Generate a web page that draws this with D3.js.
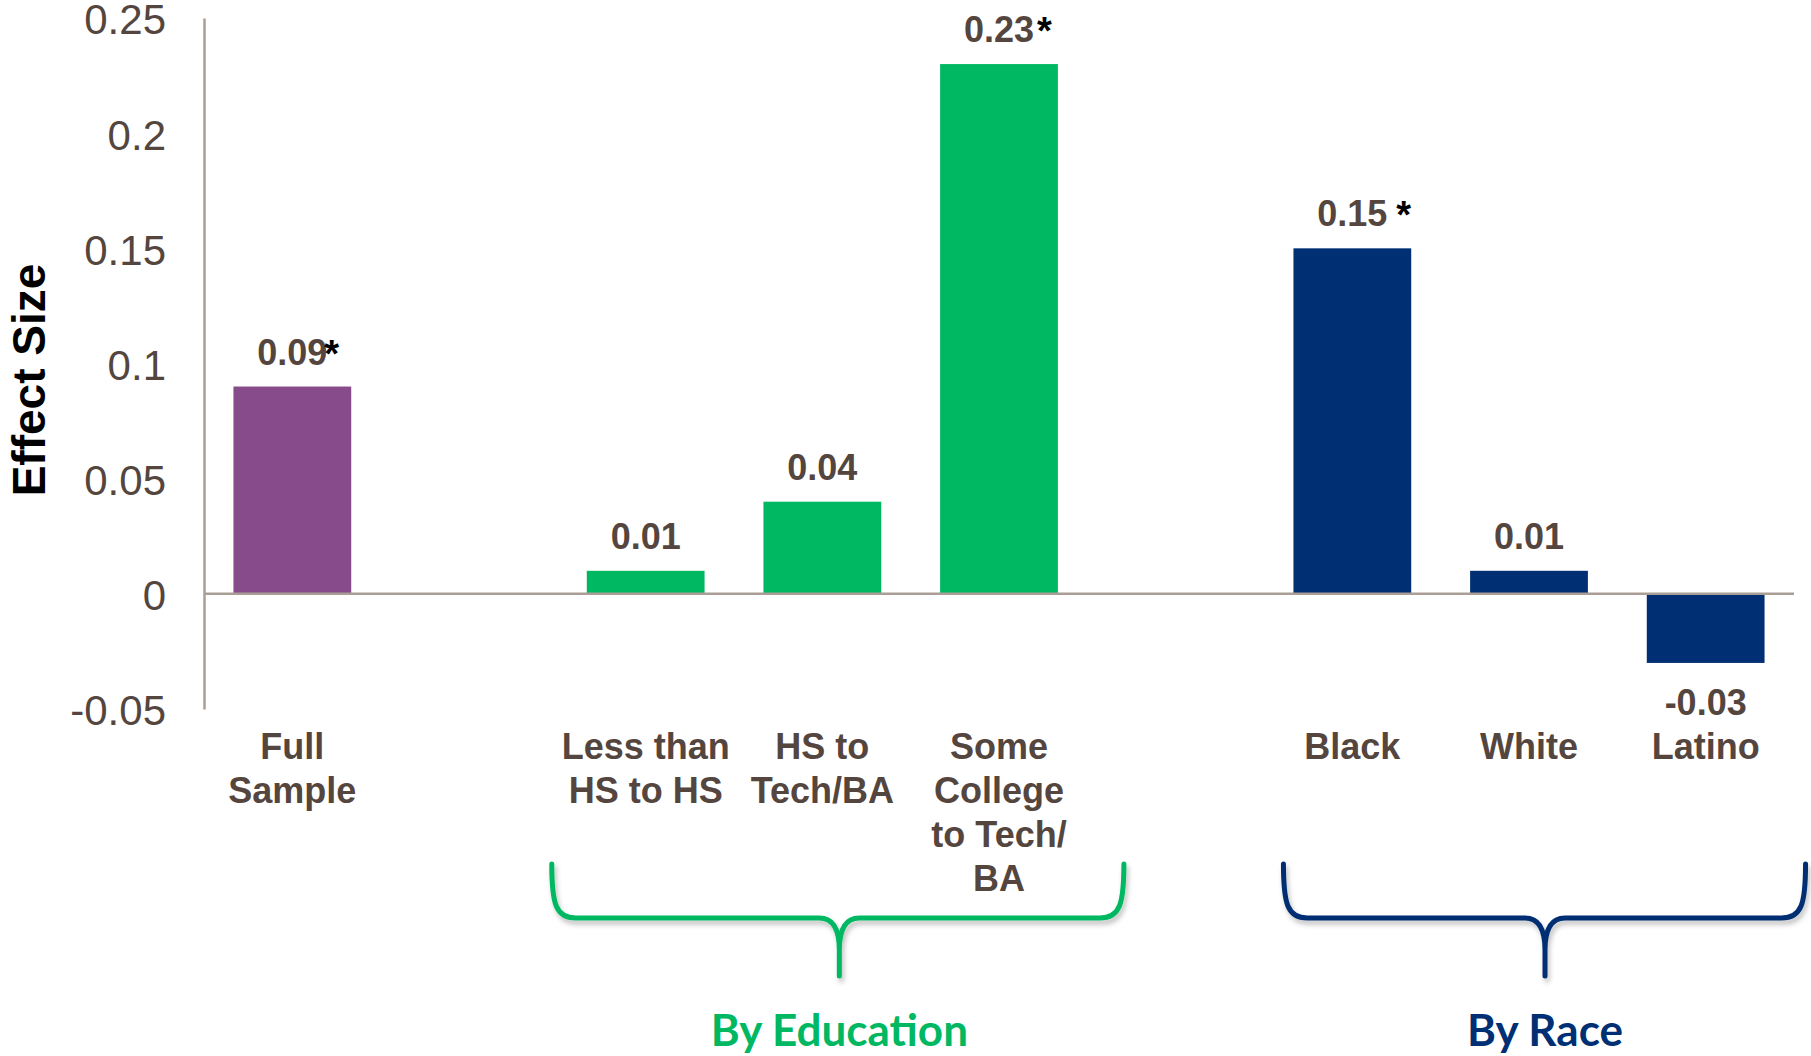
<!DOCTYPE html>
<html>
<head>
<meta charset="utf-8">
<script src="https://cdn.jsdelivr.net/npm/d3@7"></script>
<style>
  html, body { margin: 0; padding: 0; background: #fff; }
  svg { display: block; }
</style>
</head>
<body>
<svg id="chart" width="1811" height="1056"></svg>
<script>
// chart values
const slots = ["Full Sample", "gap-a", "Less than HS to HS", "HS to Tech/BA", "Some College to Tech/BA", "gap-b", "Black", "White", "Latino"];
const categories = ["Full Sample", "Less than HS to HS", "HS to Tech/BA", "Some College to Tech/BA", "Black", "White", "Latino"];
const labelLines = [["Full", "Sample"], ["Less than", "HS to HS"], ["HS to", "Tech/BA"], ["Some", "College", "to Tech/", "BA"], ["Black"], ["White"], ["Latino"]];
const effects = [0.09, 0.01, 0.04, 0.23, 0.15, 0.01, -0.03];
const significant = [true, false, false, true, true, false, false];
const groupOf = ["Full", "Education", "Education", "Education", "Race", "Race", "Race"];
const yTicks = [-0.05, 0, 0.05, 0.1, 0.15, 0.2, 0.25];
const yTickLabels = ["-0.05", "0", "0.05", "0.1", "0.15", "0.2", "0.25"];
const groupNames = ["By Education", "By Race"];
const groupKeys = ["Education", "Race"];
const groupMembers = [["Less than HS to HS", "HS to Tech/BA", "Some College to Tech/BA"], ["Black", "White", "Latino"]];

const colors = {Full: "#874a8a", Education: "#00b862", Race: "#002f73"};
const textColor = "#54463e";
const axisColor = "#aa9e96";

const svg = d3.select("#chart");

const x = d3.scaleBand()
    .domain(slots)
    .range([204, 1794])
    .paddingInner(1 / 3)
    .paddingOuter(1 / 6);

const y = d3.scaleLinear()
    .domain([-0.05, 0.25])
    .range([709, 18]);

const rows = categories.map((c, i) => ({
    cat: c, value: effects[i], sig: significant[i], group: groupOf[i], lines: labelLines[i]
}));

// drop shadow for braces
const defs = svg.append("defs");
const f = defs.append("filter").attr("id", "shadow")
    .attr("x", "-5%").attr("y", "-20%").attr("width", "110%").attr("height", "150%");
f.append("feDropShadow").attr("dx", 2).attr("dy", 4).attr("stdDeviation", 2.5)
    .attr("flood-color", "#000").attr("flood-opacity", 0.25);

// y axis
const yAxis = d3.axisLeft(y)
    .tickValues(yTicks)
    .tickFormat((d, i) => yTickLabels[i])
    .tickSize(0)
    .tickPadding(38);

const yg = svg.append("g")
    .attr("transform", `translate(${x.range()[0]},0)`)
    .call(yAxis);
yg.select(".domain").attr("stroke", axisColor).attr("stroke-width", 2.5);
yg.selectAll(".tick text")
    .attr("fill", textColor)
    .attr("dy", "0.38em")
    .style("font-family", "'Liberation Sans', Arial, sans-serif")
    .style("font-size", "42px");

svg.append("text")
    .attr("transform", `translate(45,380) rotate(-90)`)
    .attr("text-anchor", "middle")
    .style("font-family", "'Liberation Sans', Arial, sans-serif")
    .style("font-size", "46px")
    .style("font-weight", "bold")
    .attr("fill", "#000")
    .text("Effect Size");

// bars
svg.append("g").selectAll("rect")
    .data(rows)
    .join("rect")
    .attr("x", d => x(d.cat))
    .attr("width", x.bandwidth())
    .attr("y", d => y(Math.max(0, d.value)))
    .attr("height", d => Math.abs(y(d.value) - y(0)))
    .attr("fill", d => colors[d.group]);

// zero line
svg.append("line")
    .attr("x1", x.range()[0]).attr("x2", x.range()[1])
    .attr("y1", y(0)).attr("y2", y(0))
    .attr("stroke", axisColor).attr("stroke-width", 2.5);

// value labels
const starGap = {"Full Sample": -3, "Some College to Tech/BA": 3, "Black": 9};
const vl = svg.append("g")
    .style("font-family", "'Liberation Sans', Arial, sans-serif")
    .style("font-weight", "bold")
    .style("font-size", "36px");

rows.forEach(d => {
    const cx = x(d.cat) + x.bandwidth() / 2;
    const ty = d.value >= 0 ? y(d.value) - 22 : y(d.value) + 52;
    const num = d3.format(".2f")(d.value).replace("−", "-");
    const t = vl.append("text")
        .attr("x", cx).attr("y", ty)
        .attr("text-anchor", "middle")
        .attr("fill", textColor)
        .text(num);
    if (d.sig) {
        const w = t.node().getComputedTextLength();
        vl.append("text")
            .attr("x", cx + w / 2 + (starGap[d.cat] || 0))
            .attr("y", ty + 2)
            .attr("fill", "#000")
            .style("font-weight", "bold")
            .style("font-size", "38px")
            .text("*");
    }
});

// category labels
const cl = svg.append("g")
    .style("font-family", "'Liberation Sans', Arial, sans-serif")
    .style("font-weight", "bold")
    .style("font-size", "36px")
    .attr("fill", textColor)
    .attr("text-anchor", "middle");

rows.forEach(d => {
    const cx = x(d.cat) + x.bandwidth() / 2;
    d.lines.forEach((line, j) => {
        cl.append("text")
            .attr("x", cx)
            .attr("y", 759 + j * 44)
            .text(line);
    });
});

// group braces
const braceTop = 864, braceMid = 918, braceTip = 976;
function bracePath(x0, x1, cx) {
    const h = braceMid;
    return `M${x0},${braceTop} C${x0},${h - 14} ${x0 + 4},${h} ${x0 + 24},${h}` +
        ` L${cx - 20},${h} C${cx - 6},${h} ${cx},${h + 12} ${cx},${h + 32} L${cx},${braceTip}` +
        ` M${cx},${h + 32} C${cx},${h + 12} ${cx + 6},${h} ${cx + 20},${h}` +
        ` L${x1 - 24},${h} C${x1 - 4},${h} ${x1},${h - 14} ${x1},${braceTop}`;
}
// how far each brace reaches past its first and last bar, and where its point sits
const braceReach = [[-35, 66, 17], [-10, 41, 16]];

groupNames.forEach((name, gi) => {
    const members = groupMembers[gi];
    const first = x(members[0]), last = x(members[members.length - 1]) + x.bandwidth();
    const key = groupKeys[gi];
    const [padL, padR, shift] = braceReach[gi];
    const x0 = first + padL, x1 = last + padR;
    const cx = x(members[1]) + x.bandwidth() / 2 + shift;
    svg.append("path")
        .attr("d", bracePath(x0, x1, cx))
        .attr("fill", "none")
        .attr("stroke", colors[key])
        .attr("stroke-width", 5)
        .attr("stroke-linecap", "round")
        .attr("filter", "url(#shadow)");
    svg.append("text")
        .attr("x", cx).attr("y", 1046)
        .attr("text-anchor", "middle")
        .style("font-family", "Lato, 'Open Sans', sans-serif")
        .style("font-weight", "bold")
        .style("font-size", "44px")
        .attr("fill", colors[key])
        .text(name);
});
</script>
</body>
</html>
